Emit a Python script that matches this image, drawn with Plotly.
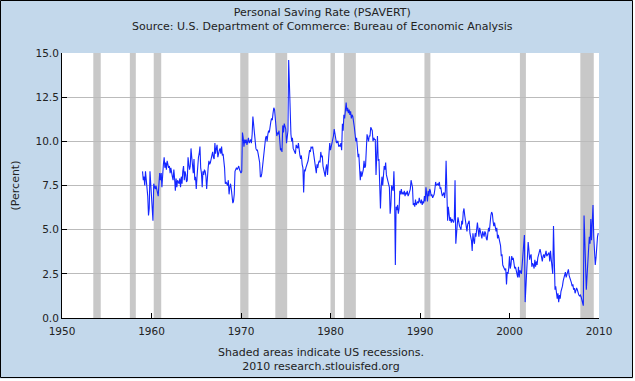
import pandas as pd
import plotly.graph_objects as go

# ---------------- data (monthly personal saving rate, %) ----------------
y1959 = [8.3, 7.8, 8.0, 7.5, 8.3, 7.9, 7.6, 6.9, 5.8, 6.2, 8.3, 7.4]
y1960 = [7.0, 6.4, 5.5, 7.6, 7.4, 7.3, 7.5, 7.2, 7.0, 6.9, 7.6, 8.2]
y1961 = [7.8, 8.2, 7.4, 8.3, 8.7, 9.1, 8.5, 8.8, 8.4, 8.9, 8.6, 8.5]
y1962 = [8.6, 8.2, 8.5, 8.1, 8.0, 7.8, 8.4, 7.9, 7.2, 7.9, 7.4, 7.8]
y1963 = [7.7, 7.6, 7.9, 7.4, 8.0, 7.6, 8.3, 8.6, 7.8, 8.3, 8.1, 7.7]
y1964 = [7.8, 9.1, 8.7, 8.4, 8.6, 9.6, 9.1, 8.4, 8.2, 9.0, 7.8, 8.0]
y1965 = [7.3, 8.0, 8.8, 9.1, 9.3, 9.7, 8.5, 8.2, 7.4, 8.3, 8.1, 8.4]
y1966 = [8.3, 8.0, 7.3, 8.2, 8.5, 8.9, 8.7, 8.8, 9.0, 9.2, 9.4, 9.1]
y1967 = [9.0, 9.9, 9.3, 9.6, 9.8, 9.1, 9.4, 9.5, 9.6, 9.3, 9.7, 9.2]
y1968 = [9.3, 8.9, 8.5, 7.6, 7.7, 7.6, 7.5, 7.8, 7.0, 7.4, 7.6, 7.3]
y1969 = [6.8, 6.5, 6.6, 7.0, 8.3, 8.4, 8.5, 8.4, 8.5, 8.6, 8.4, 8.2]
y1970 = [8.2, 8.3, 10.5, 10.2, 9.7, 10.1, 9.9, 10.1, 9.8, 10.0, 10.2, 9.9]
y1971 = [10.0, 10.1, 9.9, 10.4, 11.4, 10.8, 10.4, 10.0, 9.6, 9.5, 9.5, 9.3]
y1972 = [9.0, 8.8, 8.0, 8.0, 8.2, 8.6, 9.3, 9.4, 9.8, 10.2, 10.3, 10.0]
y1973 = [10.4, 10.6, 10.5, 11.0, 11.1, 11.3, 11.2, 11.6, 11.9, 11.8, 11.2, 10.6]
y1974 = [10.3, 10.5, 10.4, 10.6, 9.9, 9.5, 9.6, 9.4, 10.9, 10.5, 11.0, 10.8]
y1975 = [10.7, 9.9, 10.3, 10.6, 14.6, 13.0, 10.5, 10.4, 10.0, 10.2, 9.6, 9.4]
y1976 = [9.4, 9.3, 9.8, 9.7, 9.6, 9.9, 9.3, 9.2, 9.0, 9.2, 8.7, 8.5]
y1977 = [7.1, 8.4, 8.3, 8.5, 8.6, 8.8, 8.9, 9.2, 9.5, 9.4, 9.7, 9.6]
y1978 = [9.7, 9.4, 9.1, 8.6, 8.4, 8.2, 8.7, 8.5, 8.8, 8.9, 8.8, 9.4]
y1979 = [9.1, 9.2, 8.6, 8.4, 8.2, 8.0, 8.5, 8.7, 8.1, 8.9, 9.3, 9.9]
y1980 = [9.5, 9.7, 9.8, 10.1, 10.3, 10.7, 10.4, 10.0, 9.9, 10.0, 10.0, 9.7]
y1981 = [9.8, 9.7, 9.9, 9.5, 11.0, 10.6, 11.5, 11.3, 12.1, 12.2, 11.7, 11.9]
y1982 = [11.6, 11.8, 11.5, 11.7, 11.3, 11.5, 11.4, 11.2, 10.8, 10.4, 10.0, 10.2]
y1983 = [9.4, 9.1, 9.3, 8.2, 7.8, 8.3, 8.0, 8.2, 8.4, 8.9, 8.5, 8.6]
y1984 = [10.3, 10.4, 10.2, 10.0, 10.3, 10.3, 10.8, 10.7, 10.6, 10.0, 10.2, 10.1]
y1985 = [10.1, 8.1, 9.9, 10.3, 8.9, 9.0, 7.6, 6.2, 7.4, 8.0, 7.5, 7.9]
y1986 = [8.6, 8.4, 8.8, 8.1, 7.9, 7.8, 7.6, 7.4, 5.9, 6.4, 7.5, 7.4]
y1987 = [7.2, 8.3, 7.0, 3.0, 6.3, 6.1, 6.4, 5.9, 6.2, 7.2, 7.0, 7.3]
y1988 = [7.0, 7.1, 7.0, 7.2, 6.9, 7.1, 7.0, 7.2, 6.9, 7.0, 7.1, 7.3]
y1989 = [7.8, 7.5, 7.4, 6.4, 6.5, 6.3, 6.7, 6.4, 6.6, 6.6, 6.5, 6.8]
y1990 = [6.6, 6.5, 6.7, 6.4, 6.6, 6.5, 6.9, 6.6, 7.4, 7.0, 6.6, 7.2]
y1991 = [6.9, 7.3, 7.2, 6.9, 7.0, 6.8, 6.9, 7.0, 7.3, 7.7, 7.5, 7.6]
y1992 = [7.6, 7.5, 7.7, 7.3, 7.4, 7.1, 6.9, 7.0, 7.1, 6.8, 7.2, 8.9]
y1993 = [6.2, 5.5, 6.3, 6.0, 5.5, 5.7, 5.4, 5.6, 5.5, 5.4, 5.6, 7.8]
y1994 = [4.2, 5.0, 5.3, 5.7, 5.4, 5.2, 5.1, 5.0, 5.5, 5.3, 6.0, 6.2]
y1995 = [5.8, 5.4, 5.0, 4.9, 5.3, 5.4, 5.5, 4.8, 4.5, 4.4, 3.8, 4.8]
y1996 = [4.4, 4.2, 4.8, 4.6, 5.0, 5.4, 5.0, 4.6, 5.1, 4.9, 4.7, 4.5]
y1997 = [4.9, 4.6, 4.6, 4.9, 4.8, 4.5, 4.4, 4.8, 5.1, 4.9, 5.6, 5.8]
y1998 = [6.0, 5.9, 5.5, 5.2, 5.4, 4.9, 4.9, 5.1, 4.5, 4.7, 4.5, 4.3]
y1999 = [4.1, 3.5, 3.6, 3.0, 2.9, 2.8, 2.7, 2.8, 1.9, 2.6, 2.5, 2.8]
y2000 = [3.5, 2.8, 3.0, 3.5, 3.3, 3.4, 3.2, 2.8, 2.9, 2.7, 2.6, 2.3]
y2001 = [2.9, 2.3, 2.7, 2.6, 2.5, 3.0, 3.8, 4.6, 4.7, 0.9, 1.8, 2.8]
y2002 = [4.2, 4.3, 3.9, 3.3, 3.5, 3.6, 2.9, 3.1, 3.0, 2.8, 3.3, 2.9]
y2003 = [3.2, 3.0, 3.4, 3.6, 3.7, 3.9, 3.7, 3.4, 3.2, 3.5, 3.6, 3.4]
y2004 = [3.7, 3.8, 3.5, 3.6, 3.7, 3.7, 3.2, 3.8, 3.3, 3.0, 2.5, 5.2]
y2005 = [1.7, 1.6, 1.8, 1.4, 1.1, 1.4, 0.9, 1.3, 1.1, 1.5, 1.6, 1.8]
y2006 = [2.1, 2.3, 2.5, 2.6, 2.3, 2.5, 2.6, 2.75, 2.4, 2.2, 2.1, 2.0]
y2007 = [1.8, 1.9, 1.6, 1.7, 1.4, 1.5, 1.7, 1.6, 1.4, 1.3, 1.25, 1.3]
y2008 = [1.2, 1.0, 0.9, 0.7, 5.8, 4.7, 3.0, 1.6, 2.4, 3.4, 3.6, 4.6]
y2009 = [4.2, 5.6, 4.4, 5.2, 6.4, 4.6, 3.9, 3.0, 3.4, 4.4, 4.6, 4.8]

years_data = [y1959, y1960, y1961, y1962, y1963, y1964, y1965, y1966, y1967,
              y1968, y1969, y1970, y1971, y1972, y1973, y1974, y1975, y1976,
              y1977, y1978, y1979, y1980, y1981, y1982, y1983, y1984, y1985,
              y1986, y1987, y1988, y1989, y1990, y1991, y1992, y1993, y1994,
              y1995, y1996, y1997, y1998, y1999, y2000, y2001, y2002, y2003,
              y2004, y2005, y2006, y2007, y2008, y2009]
start_month = "1959-01-01"

# NBER recessions
rec_start = ["1953-07-01", "1957-08-01", "1960-04-01", "1969-12-01", "1973-11-01",
             "1980-01-01", "1981-07-01", "1990-07-01", "2001-03-01", "2007-12-01"]
rec_end = ["1954-05-01", "1958-04-01", "1961-02-01", "1970-11-01", "1975-03-01",
           "1980-07-01", "1982-11-01", "1991-03-01", "2001-11-01", "2009-06-01"]

x_tick_years = ["1950", "1960", "1970", "1980", "1990", "2000", "2010"]
y_tick_vals = [0.0, 2.5, 5.0, 7.5, 10.0, 12.5, 15.0]

title_line1 = "Personal Saving Rate (PSAVERT)"
title_line2 = "Source: U.S. Department of Commerce: Bureau of Economic Analysis"
footer1 = "Shaded areas indicate US recessions."
footer2 = "2010 research.stlouisfed.org"
y_title = "(Percent)"

# ---------------- build ----------------
values = [v for yr in years_data for v in yr]
dates = pd.date_range(start_month, periods=len(values), freq="MS")

W, H = 635, 381
L, R, T, B = 62, 36, 53, 63
PW, PH = W - L - R, H - T - B

def px_x(p):
    return (p - L) / PW

def px_y(p):
    return (H - B - p) / PH

BG = "#C3D8EB"
FONT = "DejaVu Sans"
TXT = "#222222"

fig = go.Figure()
fig.add_trace(go.Scatter(x=dates, y=values, mode="lines",
                         line=dict(color="#1426FF", width=1.1),
                         hoverinfo="skip", showlegend=False))

shapes = []
for s, e in zip(rec_start, rec_end):
    shapes.append(dict(type="rect", xref="x", yref="paper", x0=s, x1=e, y0=0, y1=1,
                       fillcolor="#C8C8C8", line=dict(width=0), layer="between"))
# outer frame
shapes.append(dict(type="rect", xref="paper", yref="paper",
                   x0=px_x(0.5), x1=px_x(632.5), y0=px_y(377.5), y1=px_y(0.5),
                   line=dict(color="black", width=1), fillcolor="rgba(0,0,0,0)", layer="above"))
shapes.append(dict(type="rect", xref="paper", yref="paper",
                   x0=px_x(633), x1=px_x(636), y0=px_y(382), y1=px_y(-1),
                   line=dict(width=0), fillcolor="white", layer="above"))
shapes.append(dict(type="rect", xref="paper", yref="paper",
                   x0=px_x(-1), x1=px_x(636), y0=px_y(382), y1=px_y(378.5),
                   line=dict(width=0), fillcolor="white", layer="above"))

annotations = [
    dict(text=title_line1 + "<br>" + title_line2, xref="paper", yref="paper",
         x=px_x(322), y=px_y(19), xanchor="center", yanchor="middle", showarrow=False,
         font=dict(family=FONT, size=11, color=TXT)),
    dict(text=footer1 + "<br>" + footer2, xref="paper", yref="paper",
         x=px_x(321), y=px_y(359.5), xanchor="center", yanchor="middle", showarrow=False,
         font=dict(family=FONT, size=11, color=TXT)),
    dict(text=y_title, xref="paper", yref="paper", x=px_x(15), y=0.5, textangle=-90,
         xanchor="center", yanchor="middle", showarrow=False,
         font=dict(family=FONT, size=11, color=TXT)),
]

fig.update_layout(
    width=W, height=H,
    margin=dict(l=L, r=R, t=T, b=B, pad=0),
    paper_bgcolor=BG, plot_bgcolor="white",
    shapes=shapes, annotations=annotations,
    font=dict(family=FONT, size=10, color=TXT),
    xaxis=dict(type="date", range=["1950-01-01", "2010-01-01"],
               tickvals=[y + "-01-01" for y in x_tick_years], ticktext=x_tick_years,
               ticks="inside", ticklen=5, tickcolor="black", tickwidth=1,
               ticklabelstandoff=3,
               showline=True, linecolor="black", linewidth=1,
               showgrid=False, zeroline=False, fixedrange=True,
               tickfont=dict(family=FONT, size=10.5, color=TXT)),
    yaxis=dict(range=[0, 15], tickvals=y_tick_vals, tickformat=".1f",
               ticks="inside", ticklen=5, tickcolor="black", tickwidth=1,
               showline=True, linecolor="black", linewidth=1,
               showgrid=True, gridcolor="#BBBBBB", gridwidth=1,
               zeroline=False, fixedrange=True,
               tickfont=dict(family=FONT, size=10.5, color=TXT)),
)

fig.write_html("out.html", config={"displayModeBar": False},
               post_script="document.body.style.margin='0px';document.body.style.padding='0px';")
